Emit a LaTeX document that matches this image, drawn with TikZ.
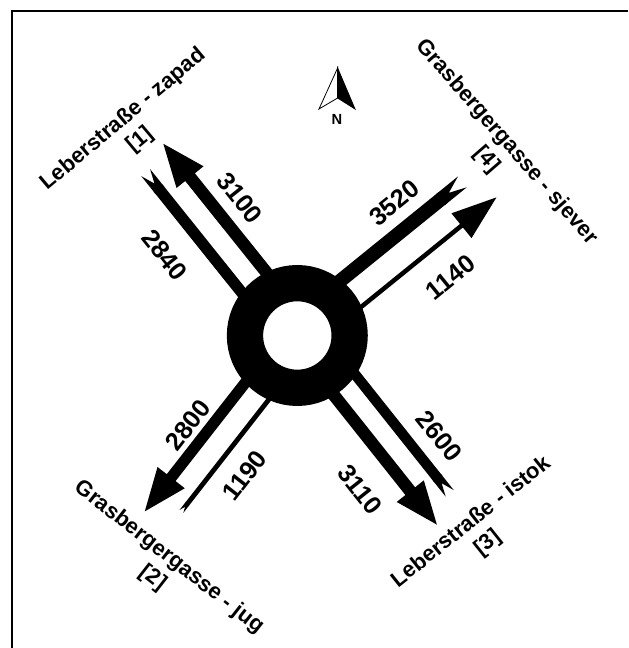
\documentclass[tikz,border=0pt]{standalone}
\usepackage{fontspec}
\setmainfont{Liberation Sans}
\usetikzlibrary{arrows.meta,backgrounds}

\begin{document}
\begin{tikzpicture}[
   x=0.75pt, y=0.75pt,
   exitflow/.style={-{Triangle[length=34pt,width=23pt]}},
   entryflow/.style={{Triangle Cap[reversed,length=0pt 1.25]}-},
   vol/.style={font=\bfseries\fontsize{19}{21}\selectfont,inner sep=0pt},
   street/.style={font=\bfseries\fontsize{16.5}{20}\selectfont,align=center,inner sep=0pt},
]
\useasboundingbox (0,0) rectangle (628,648);
\draw[line width=0.9pt] (12,0) -- (12,637) -- (628,637);

% roundabout
\node[circle,draw,fill=white,line width=27.2pt,minimum size=78.5pt,inner sep=0pt] (rb) at (297.3,312.5) {};

% north arrow
\coordinate (n-tip) at (337.6,580);
\coordinate (n-left) at (319,539);
\coordinate (n-notch) at (337.6,550);
\coordinate (n-right) at (355,539);
\filldraw[fill=white,line width=0.6pt] (n-tip) -- (n-left) -- (n-notch) -- cycle;
\filldraw[line width=0.6pt] (n-tip) -- (n-notch) -- (n-right) -- cycle;
\node[font=\bfseries\fontsize{11}{12}\selectfont,inner sep=0pt] (n-label) at (337,529) {N};

% [1] zapad
\begin{scope}[shift={(297.3,312.5)},rotate=128.7]
\coordinate (zapad-exit-in) at (50,-15.3);
\coordinate (zapad-exit-out) at (236,-15.3);
\coordinate (zapad-entry-out) at (222,16.5);
\coordinate (zapad-entry-in) at (50,16.5);
\node[vol,rotate=-51.3] (v3100) at (143,-41) {3100};
\node[vol,rotate=-51.3] (v2840) at (146,53) {2840};
\node[street,rotate=40] (zapad) at (264,0.5) {Leberstraße - zapad\\{[1]}};
\end{scope}

% [4] sjever
\begin{scope}[shift={(297.3,312.5)},rotate=39]
\coordinate (sjever-exit-in) at (50,-18);
\coordinate (sjever-exit-out) at (242,-18);
\coordinate (sjever-entry-out) at (225,15.5);
\coordinate (sjever-entry-in) at (50,15.5);
\node[vol,rotate=39] (v3520) at (159,42) {3520};
\node[vol,rotate=39] (v1140) at (156,-51) {1140};
\node[street,rotate=-49] (sjever) at (271,18) {Grasbergergasse - sjever\\{[4]}};
\end{scope}

% [2] jug
\begin{scope}[shift={(297.3,312.5)},rotate=232]
\coordinate (jug-exit-in) at (50,-11.9);
\coordinate (jug-exit-out) at (235,-11.9);
\coordinate (jug-entry-out) at (210,17);
\coordinate (jug-entry-in) at (50,17);
\node[vol,rotate=52] (v2800) at (138,-31) {2800};
\node[vol,rotate=52] (v1190) at (143,45) {1190};
\node[street,rotate=-38] (jug) at (267,35.5) {Grasbergergasse - jug\\{[2]}};
\end{scope}

% [3] istok
\begin{scope}[shift={(297.3,312.5)},rotate=308.5]
\coordinate (istok-exit-in) at (50,-8.5);
\coordinate (istok-exit-out) at (237.5,-8.5);
\coordinate (istok-entry-out) at (218.5,21);
\coordinate (istok-entry-in) at (50,21);
\node[vol,rotate=-51.5] (v3110) at (160,-47) {3110};
\node[vol,rotate=-51.5] (v2600) at (167,48.5) {2600};
\node[street,rotate=38.5] (istok) at (268,20) {Leberstraße - istok\\{[3]}};
\end{scope}

% flows, under the ring
\begin{scope}[on background layer]
\draw[exitflow,line width=9.3pt] (zapad-exit-in) -- (zapad-exit-out);
\draw[entryflow,line width=8.5pt] (zapad-entry-out) -- (zapad-entry-in);
\draw[exitflow,line width=3.4pt] (sjever-exit-in) -- (sjever-exit-out);
\draw[entryflow,line width=10.5pt] (sjever-entry-out) -- (sjever-entry-in);
\draw[exitflow,line width=8.4pt] (jug-exit-in) -- (jug-exit-out);
\draw[entryflow,line width=3.6pt] (jug-entry-out) -- (jug-entry-in);
\draw[exitflow,line width=9.3pt] (istok-exit-in) -- (istok-exit-out);
\draw[entryflow,line width=7.8pt] (istok-entry-out) -- (istok-entry-in);
\end{scope}
\end{tikzpicture}
\end{document}
